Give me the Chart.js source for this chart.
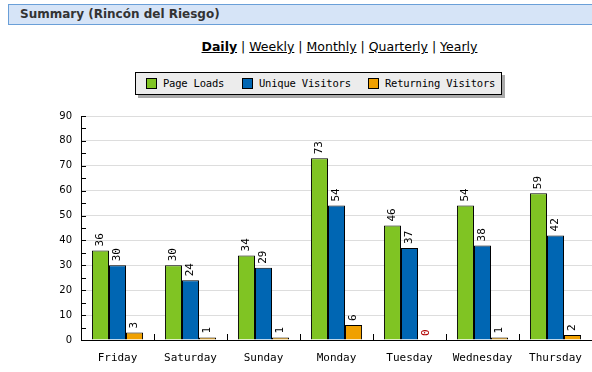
<!DOCTYPE html>
<html>
<head>
<meta charset="utf-8">
<script src="https://cdn.jsdelivr.net/npm/chart.js@4"></script>
<style>
  body { margin: 0; background: #fff; width: 592px; height: 372px; overflow: hidden; position: relative; font-family: "DejaVu Sans", Verdana, sans-serif; }
  #header { position: absolute; left: 8px; top: 4px; width: 600px; height: 19px; background: #d6e4f7; border: 1px solid #6a9fd8; border-right: none; }
  #header span { position: absolute; left: 11px; top: 2px; font-weight: bold; font-size: 12px; color: #333; }
  #nav { position: absolute; left: 0; width: 679px; top: 39px; text-align: center; font-size: 12.5px; color: #000; }
  #nav a { color: #000; text-decoration: underline; }
  #nav a.on { font-weight: bold; }
  #legend { position: absolute; left: 135px; top: 72px; width: 365px; height: 21px; background: #ececec; border: 1px solid #000; box-shadow: 3px 3px 0 #aaa; font-family: "DejaVu Sans Mono", monospace; font-size: 10.5px; }
  #legend i { position: absolute; top: 5px; width: 9px; height: 9px; border: 1px solid #000; }
  #legend span { position: absolute; top: 4px; white-space: nowrap; letter-spacing: -0.2px; }
  #wrap { position: absolute; left: 0; top: 101px; width: 592px; height: 271px; }
</style>
</head>
<body>
<div id="header"><span>Summary (Rincón del Riesgo)</span></div>
<div id="nav"><a class="on">Daily</a> | <a>Weekly</a> | <a>Monthly</a> | <a>Quarterly</a> | <a>Yearly</a></div>
<div id="legend"></div>
<div id="wrap"><canvas id="chart" width="592" height="271"></canvas></div>
<script>
"use strict";

const days = ["Friday", "Saturday", "Sunday", "Monday", "Tuesday", "Wednesday", "Thursday"];
const pageLoads = [36, 30, 34, 73, 46, 54, 59];
const uniqueVisitors = [30, 24, 29, 54, 37, 38, 42];
const returningVisitors = [3, 1, 1, 6, 0, 1, 2];
const seriesNames = ["Page Loads", "Unique Visitors", "Returning Visitors"];
const seriesColors = ["#80c423", "#0066b3", "#f0a000"];
const yTicks = [0, 10, 20, 30, 40, 50, 60, 70, 80, 90];

/**************************************************************
 * Legend
 **************************************************************/
const legendLeft = [10, 106, 232];
const legend = document.getElementById("legend");
seriesNames.forEach((name, i) => {
  const box = document.createElement("i");
  box.style.left = legendLeft[i] + "px";
  box.style.background = seriesColors[i];
  const txt = document.createElement("span");
  txt.style.left = legendLeft[i] + 17 + "px";
  txt.textContent = name;
  legend.appendChild(box);
  legend.appendChild(txt);
});

/**************************************************************
 * Plugins
 **************************************************************/
const axisMarks = {
  id: "axisMarks",
  afterDatasetsDraw(chart) {
    const ctx = chart.ctx;
    const x = chart.scales.x;
    const y = chart.scales.y;
    const area = chart.chartArea;
    ctx.save();
    ctx.strokeStyle = "#000";
    ctx.lineWidth = 1;
    ctx.beginPath();
    // y axis ticks (inside), every 5
    for (let v = 0; v <= yTicks[yTicks.length - 1]; v += 5) {
      const py = Math.round(y.getPixelForValue(v)) + 0.5;
      ctx.moveTo(area.left, py);
      ctx.lineTo(area.left + 5, py);
    }
    ctx.moveTo(area.left + 0.5, area.top);
    ctx.lineTo(area.left + 0.5, area.bottom);
    ctx.moveTo(area.left, Math.round(area.bottom) + 0.5);
    ctx.lineTo(area.right, Math.round(area.bottom) + 0.5);
    // category separators
    for (let i = 0; i < days.length - 1; i++) {
      const px = Math.round((x.getPixelForValue(i) + x.getPixelForValue(i + 1)) / 2) + 0.5;
      ctx.moveTo(px, area.bottom);
      ctx.lineTo(px, area.bottom - 6);
    }
    ctx.stroke();
    ctx.restore();
  },
};

const valueLabels = {
  id: "valueLabels",
  afterDatasetsDraw(chart) {
    const ctx = chart.ctx;
    ctx.save();
    ctx.font = '11px "DejaVu Sans Mono", monospace';
    ctx.textAlign = "left";
    ctx.textBaseline = "middle";
    chart.data.datasets.forEach((ds, di) => {
      chart.getDatasetMeta(di).data.forEach((bar, i) => {
        const v = ds.data[i];
        ctx.fillStyle = v === 0 ? "#b00000" : "#000";
        ctx.save();
        ctx.translate(bar.x, bar.y - 4);
        ctx.rotate(-Math.PI / 2);
        ctx.fillText(String(v), 0, 0);
        ctx.restore();
      });
    });
    ctx.restore();
  },
};

/**************************************************************
 * Chart
 **************************************************************/
new Chart(document.getElementById("chart"), {
  type: "bar",
  data: {
    labels: days,
    datasets: [pageLoads, uniqueVisitors, returningVisitors].map((d, i) => ({
      label: seriesNames[i],
      data: d,
      backgroundColor: seriesColors[i],
      borderColor: "#000",
      borderWidth: { top: 1, left: 1, right: 1, bottom: 0 },
      borderSkipped: false,
      categoryPercentage: 0.7,
      barPercentage: 1,
    })),
  },
  options: {
    responsive: false,
    animation: false,
    layout: { padding: { top: 14, right: 0, left: 0, bottom: 0 } },
    plugins: { legend: { display: false }, tooltip: { enabled: false } },
    scales: {
      x: {
        grid: { display: false },
        border: { display: false },
        ticks: { color: "#000", font: { family: "DejaVu Sans Mono", size: 11 }, padding: 4, maxRotation: 0 },
        afterFit(s) { s.height = 32; },
      },
      y: {
        min: 0,
        max: 90,
        afterBuildTicks(s) { s.ticks = yTicks.map((v) => ({ value: v })); },
        grid: { color: "#dddddd", drawTicks: false },
        border: { display: false },
        ticks: { color: "#000", font: { family: "DejaVu Sans", size: 10 }, padding: 9 },
        afterFit(s) { s.width = 81; },
      },
    },
  },
  plugins: [axisMarks, valueLabels],
});
</script>
</body>
</html>
